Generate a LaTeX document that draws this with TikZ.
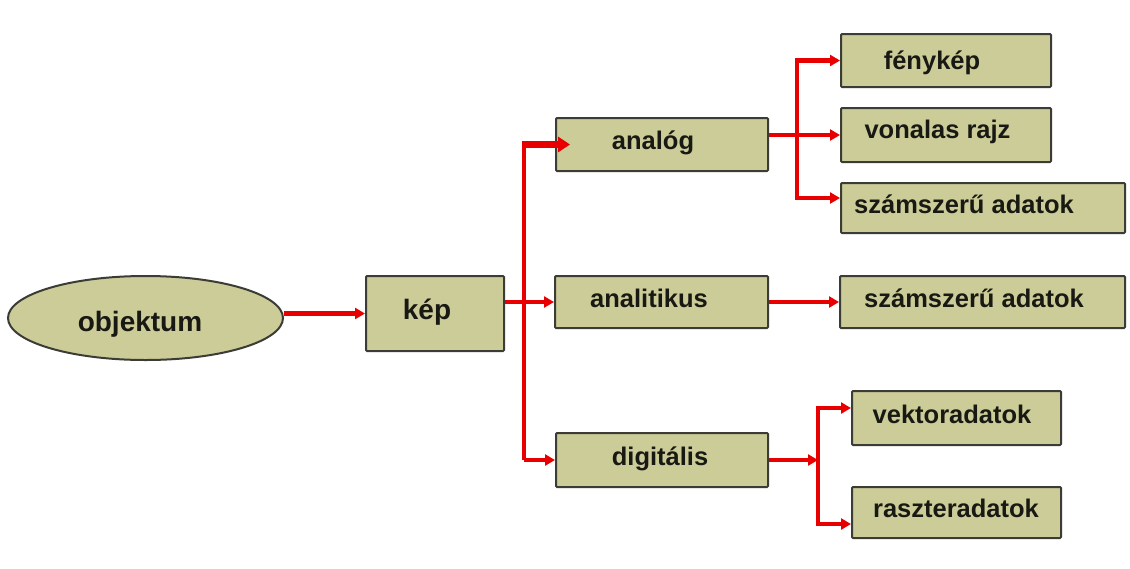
\documentclass[tikz,border=0pt]{standalone}
\usepackage{fontspec}
\setmainfont{Liberation Sans}
\usetikzlibrary{arrows.meta,shapes.geometric}
\definecolor{boxfill}{RGB}{204,204,153}
\definecolor{boxline}{RGB}{60,60,55}
\definecolor{linkred}{RGB}{232,0,0}
\definecolor{ink}{RGB}{25,25,20}
\begin{document}
\begin{tikzpicture}[x=1pt,y=-1pt,
  box/.style={draw=boxline,fill=boxfill,line width=2pt,rounded corners=1pt,inner sep=0pt},
  label box/.style={anchor=base,inner sep=0pt,text=ink,font=\fontsize{25.5}{30}\selectfont\bfseries},
  big label/.style={anchor=base,inner sep=0pt,text=ink,font=\fontsize{28}{33}\selectfont\bfseries},
  link/.style={draw=linkred,line width=4.5pt,-{Triangle[length=10pt,width=11pt]}},
  wide link/.style={draw=linkred,line width=7pt,-{Triangle[length=12pt,width=15pt]}},
  plain link/.style={draw=linkred,line width=4.5pt}]
\useasboundingbox[fill=white] (0,0) rectangle (1130,568);

% shapes
\node[box,ellipse,minimum width=275,minimum height=84] (obj) at (145.5,318) {};
\node[box,minimum width=138,minimum height=75] (kep) at (435,313.5) {};
\node[box,minimum width=212,minimum height=53] (analog) at (662,144.5) {};
\node[box,minimum width=213,minimum height=52] (anal) at (661.5,302) {};
\node[box,minimum width=212,minimum height=54] (dig) at (662,460) {};
\node[box,minimum width=210,minimum height=53] (feny) at (946,60.5) {};
\node[box,minimum width=210,minimum height=54] (vonal) at (946,135) {};
\node[box,minimum width=284,minimum height=50] (szamA) at (983,208) {};
\node[box,minimum width=285,minimum height=52] (szamB) at (982.5,302) {};
\node[box,minimum width=209,minimum height=54] (vektor) at (956.5,418) {};
\node[box,minimum width=209,minimum height=51] (raszter) at (956.5,512.5) {};

% labels
\node[big label] (objT) at (140,331) {objektum};
\node[big label] (kepT) at (427,319) {kép};
\node[label box] (analogT) at (653,149) {analóg};
\node[label box] (analT) at (649,307) {analitikus};
\node[label box] (digT) at (660,465) {digitális};
\node[label box] (fenyT) at (932,69) {fénykép};
\node[label box] (vonalT) at (937.5,138) {vonalas rajz};
\node[label box] (szamAT) at (964,213) {számszerű adatok};
\node[label box] (szamBT) at (974,307) {számszerű adatok};
\node[label box] (vektorT) at (952,423) {vektoradatok};
\node[label box] (raszterT) at (956,517) {raszteradatok};

% branch points
\coordinate (kepTrunk) at (524,460);
\coordinate (anaTrunk) at (797,135);
\coordinate (digTrunk) at (818,460);

% connectors
\draw[link] (obj.east |- kep.west) -- (kep.west);
\draw[link] (kep.east |- anal.west) -- (anal.west);
\draw[link] (kepTrunk) -- (dig.west);
\draw[plain link] (kepTrunk) -- ([yshift=3.5]kepTrunk |- analog.west);
\draw[wide link] ([xshift=-2.25]kepTrunk |- analog.west) -- ([xshift=15]analog.west);

\draw[link] (analog.east |- vonal.west) -- (vonal.west);
\draw[link] (anaTrunk) |- (feny.west);
\draw[link] (anaTrunk) |- ([yshift=10]szamA.west);

\draw[link] (anal.east) -- (szamB.west);

\draw[link] (dig.east) -- (digTrunk);
\draw[link] (digTrunk) |- ([yshift=10]vektor.west);
\draw[link] (digTrunk) |- ([yshift=-11.5]raszter.west);
\end{tikzpicture}
\end{document}
